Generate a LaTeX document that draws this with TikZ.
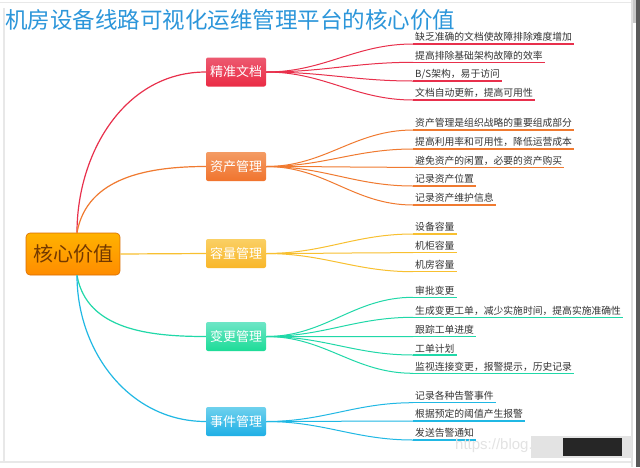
\documentclass[tikz,border=0pt]{standalone}
\usepackage{fontspec}
\newfontfamily\cjk{Noto Sans CJK SC}
\newfontfamily\wmfont{Liberation Sans}
\definecolor{cRed}{HTML}{E8304C}
\definecolor{cOra}{HTML}{F07A30}
\definecolor{cYel}{HTML}{F8C030}
\definecolor{cTea}{HTML}{20D8A8}
\definecolor{cCya}{HTML}{20B8E4}
\definecolor{cTitle}{HTML}{2C96DA}
\definecolor{cLeafTxt}{HTML}{333333}
\tikzset{
  branchbox/.style={minimum width=60pt, minimum height=29pt, inner sep=0pt, rounded corners=2pt,
    text=white, font=\cjk\fontsize{13}{14}\selectfont},
  leaf/.style={anchor=south west, inner xsep=2pt, inner ysep=2pt, text=cLeafTxt,
    font=\cjk\fontsize{9.8}{11}\selectfont},
  uline/.style={line width=1.5pt},
  curveB/.style={line width=1pt},
  curveA/.style={line width=1.2pt},
}
\begin{document}
\begin{tikzpicture}[x=1pt,y=-1pt]
\useasboundingbox (0,0) rectangle (640,467);
\fill[white] (0,0) rectangle (640,467);
% screenshot frame
\fill[gray!18] (0,1.5) rectangle (632,3);
\fill[gray!18] (3.2,8) rectangle (5.2,462);
\fill[gray!18] (0,461) rectangle (632,462.5);
\fill[gray!25] (631,0) rectangle (632.5,467);
\fill[gray!45] (632.5,0) rectangle (636,23);
\fill[black!65] (636,0) rectangle (640,467);
% title
\node[anchor=west, inner sep=0pt, text=cTitle, font=\cjk\fontsize{22.5}{24}\selectfont] (title) at (5,20) {机房设备线路可视化运维管理平台的核心价值};
% core
\node[minimum width=94pt, minimum height=42pt, inner sep=0pt, rounded corners=4pt,
  top color=orange!60!yellow, bottom color=orange!90!yellow, draw=orange!85!black, line width=0.6pt,
  text=orange!45!black, font=\cjk\fontsize{20}{22}\selectfont] (core) at (73,254) {核心价值};
% branches
\node[branchbox, top color=cRed!80!white, bottom color=cRed!90!red] (b1) at (236,72) {精准文档};
\node[branchbox, top color=cOra!75!white, bottom color=cOra!95!red] (b2) at (236,166.5) {资产管理};
\node[branchbox, top color=cYel!75!white, bottom color=cYel!85!orange] (b3) at (236,253.5) {容量管理};
\node[branchbox, top color=cTea!65!white, bottom color=cTea!90!green] (b4) at (236,336.5) {变更管理};
\node[branchbox, top color=cCya!65!white, bottom color=cCya!95!blue] (b5) at (236,421.5) {事件管理};
\coordinate (ct) at ([xshift=4pt]core.north);
\coordinate (cb) at ([xshift=4pt]core.south);
\draw[curveA, cRed] (ct) to[out=90,in=180] (b1.west);
\draw[curveA, cOra] (ct) to[out=80,in=180] (b2.west);
\draw[curveA, cYel] (core.east) -- (b3.west);
\draw[curveA, cTea] (cb) to[out=-80,in=180] (b4.west);
\draw[curveA, cCya] (cb) to[out=-90,in=180] (b5.west);
% leaves
\foreach \name/\y/\txt/\col/\b in {
  l11/44/缺乏准确的文档使故障排除难度增加/cRed/b1,
  l12/62.3/提高排除基础架构故障的效率/cRed/b1,
  l13/81/{B/S架构，易于访问}/cRed/b1,
  l14/100/文档自动更新，提高可用性/cRed/b1,
  l21/130/资产管理是组织战略的重要组成部分/cOra/b2,
  l22/149/提高利用率和可用性，降低运营成本/cOra/b2,
  l23/167.3/避免资产的闲置，必要的资产购买/cOra/b2,
  l24/186/记录资产位置/cOra/b2,
  l25/205/记录资产维护信息/cOra/b2,
  l31/234/设备容量/cYel/b3,
  l32/252.7/机柜容量/cYel/b3,
  l33/271.7/机房容量/cYel/b3,
  l41/297.3/审批变更/cTea/b4,
  l42/317.3/生成变更工单，减少实施时间，提高实施准确性/cTea/b4,
  l43/336.7/跟踪工单进度/cTea/b4,
  l44/355/工单计划/cTea/b4,
  l45/373.3/监视连接变更，报警提示，历史记录/cTea/b4,
  l51/402.7/记录各种告警事件/cCya/b5,
  l52/421/根据预定的阈值产生报警/cCya/b5,
  l53/440/发送告警通知/cCya/b5}{
  \node[leaf] (\name) at (413,\y) {\txt};
  \draw[uline, \col] (\name.south west) -- (\name.south east);
  \draw[curveB, \col] (\b.east) to[out=0,in=180] (\name.south west);
}
% watermark
\node[anchor=west, inner sep=0pt, text=gray!22, font=\wmfont\fontsize{15}{16}\selectfont] (wm) at (455,446) {https://blog.cs};
\fill[gray!22] (531,436) rectangle (632,458);
\fill[black!85] (563,438) rectangle (622,456);
\end{tikzpicture}
\end{document}
